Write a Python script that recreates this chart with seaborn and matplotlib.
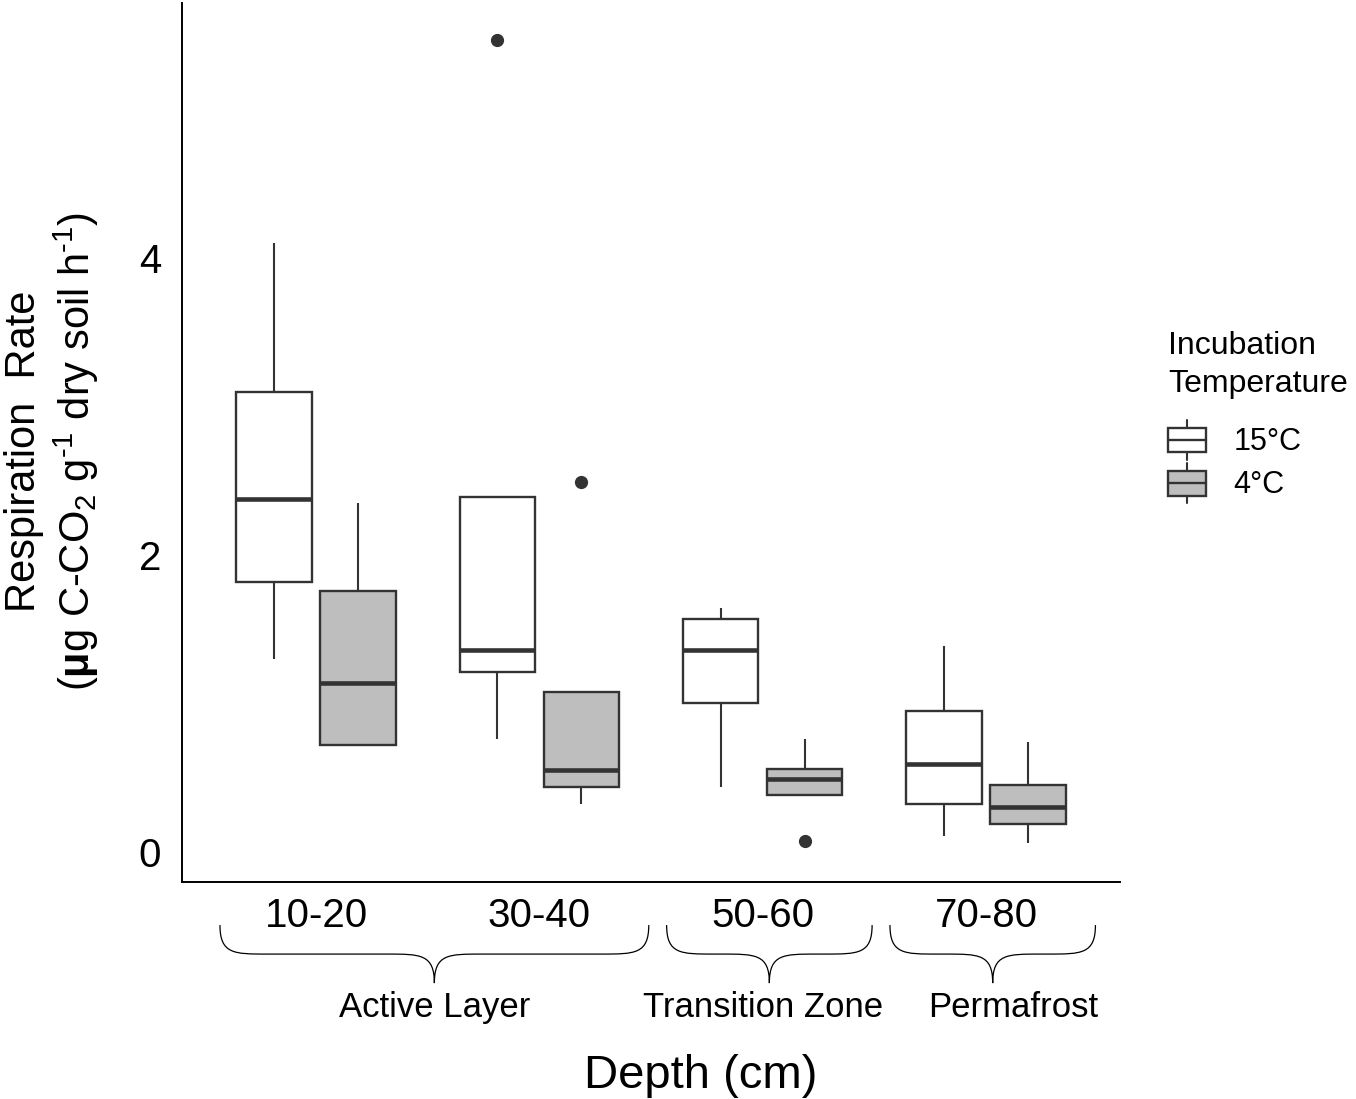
import pandas as pd
import matplotlib
matplotlib.use("Agg")
import matplotlib.pyplot as plt
import matplotlib.transforms as mtransforms
from matplotlib.path import Path
from matplotlib.patches import PathPatch, Patch, Rectangle
from matplotlib.lines import Line2D
from matplotlib.legend_handler import HandlerBase
import seaborn as sns

depths = ["10-20", "30-40", "50-60", "70-80"]
temps = ["15°C", "4°C"]
resp_15 = [
    [1.30, 1.82, 2.38, 3.10, 4.10],
    [0.76, 1.21, 1.36, 2.39, 5.47],
    [0.44, 1.00, 1.36, 1.57, 1.64],
    [0.11, 0.32, 0.59, 0.95, 1.39],
]
resp_4 = [
    [0.72, 0.72, 1.14, 1.76, 2.35],
    [0.32, 0.44, 0.55, 1.08, 2.49],
    [0.07, 0.38, 0.49, 0.56, 0.76],
    [0.06, 0.19, 0.30, 0.45, 0.74],
]
zones = ["Active Layer", "Transition Zone", "Permafrost"]
zone_first = [0, 2, 3]
zone_last = [1, 2, 3]
zone_label_shift = [0.0, -0.03, 0.09]

rows = []
for temp, series in zip(temps, [resp_15, resp_4]):
    for depth, vals in zip(depths, series):
        for v in vals:
            rows.append({"depth": depth, "temp": temp, "rate": v})
df = pd.DataFrame(rows)

sns.set_style("white")
plt.rcParams["font.family"] = ["Liberation Sans", "DejaVu Sans"]
plt.rcParams["mathtext.fontset"] = "custom"
plt.rcParams["mathtext.rm"] = "Liberation Sans"
plt.rcParams["mathtext.it"] = "Liberation Sans:italic"
plt.rcParams["mathtext.bf"] = "Liberation Sans:bold"
plt.rcParams["text.color"] = "black"
plt.rcParams["axes.labelcolor"] = "black"

edge = "#333333"
colors = {"15°C": "white", "4°C": "#bebebe"}

fig = plt.figure(figsize=(13.56, 10.99), dpi=100)
ax = fig.add_axes([182 / 1356, 1 - 882 / 1099, (1120 - 182) / 1356, 879 / 1099])

sns.boxplot(data=df, x="depth", y="rate", hue="temp", order=depths, hue_order=temps,
            palette=colors, saturation=1, width=0.75, gap=0.1, linecolor=edge,
            linewidth=1.7, showcaps=False, fliersize=8.5, legend=False,
            medianprops=dict(linewidth=3.3, color=edge),
            whiskerprops=dict(linewidth=1.5, color=edge),
            flierprops=dict(marker="o", markerfacecolor=edge, markeredgecolor=edge),
            ax=ax)

ax.set_xlim(-0.6, 3.6)
ax.set_ylim(-0.203, 5.72)
ax.set_yticks([0, 2, 4])
ax.set_yticklabels(["0", "2", "4"])
ax.set_xlabel("")
ax.set_ylabel("Respiration  Rate\n($\\mathbf{\\mu}$g C-CO$_2$ g$^{\\text{-}1}$ dry soil h$^{\\text{-}1}$)",
              fontsize=30)
ax.yaxis.set_label_coords(-0.086, 0.49)
ax.tick_params(axis="both", length=5, width=1.1, color=edge, labelcolor="black",
               labelsize=29)
ax.tick_params(axis="y", pad=10)
ax.tick_params(axis="x", pad=6)
sns.despine(ax=ax)
for s in ["left", "bottom"]:
    ax.spines[s].set_linewidth(1.4)
    ax.spines[s].set_color("black")

# curly braces grouping the depths into zones
trans = mtransforms.blended_transform_factory(ax.transData, ax.transAxes)
y_top, y_mid, y_tip = -0.049, -0.082, -0.115
dx = 0.21


def brace(x0, x1):
    xm = (x0 + x1) / 2
    verts = [
        (x0, y_top), (x0, y_mid), (x0 + dx * 0.3, y_mid), (x0 + dx, y_mid),
        (xm - dx, y_mid),
        (xm - dx * 0.3, y_mid), (xm, y_mid), (xm, y_tip),
        (xm, y_mid), (xm + dx * 0.3, y_mid), (xm + dx, y_mid),
        (x1 - dx, y_mid),
        (x1 - dx * 0.3, y_mid), (x1, y_mid), (x1, y_top),
    ]
    codes = [Path.MOVETO, Path.CURVE4, Path.CURVE4, Path.CURVE4,
             Path.LINETO,
             Path.CURVE4, Path.CURVE4, Path.CURVE4,
             Path.CURVE4, Path.CURVE4, Path.CURVE4,
             Path.LINETO,
             Path.CURVE4, Path.CURVE4, Path.CURVE4]
    ax.add_patch(PathPatch(Path(verts, codes), facecolor="none", edgecolor="black",
                           lw=0.9, transform=trans, clip_on=False))
    return xm


for name, i0, i1, sh in zip(zones, zone_first, zone_last, zone_label_shift):
    xm = brace(i0 - 0.43, i1 + 0.49)
    ax.text(xm + sh, -0.143, name, transform=trans, ha="center", va="center",
            fontsize=25, clip_on=False)

fig.text(701 / 1356, 1 - 1088 / 1099, "Depth (cm)", ha="center", va="baseline",
         fontsize=34)


class BoxHandler(HandlerBase):
    def create_artists(self, legend, orig_handle, xdescent, ydescent, width, height,
                       fontsize, trans):
        x0, y0 = -xdescent, -ydescent
        xm = x0 + width / 2
        rect = Rectangle((x0, y0 + 0.19 * height), width, 0.62 * height,
                         facecolor=orig_handle.get_facecolor(), edgecolor=edge,
                         lw=1.7, transform=trans)
        lo = Line2D([xm, xm], [y0, y0 + 0.19 * height], color=edge, lw=1.5, transform=trans)
        hi = Line2D([xm, xm], [y0 + 0.81 * height, y0 + height], color=edge, lw=1.5,
                    transform=trans)
        med = Line2D([x0, x0 + width], [y0 + 0.5 * height] * 2, color=edge, lw=1.7,
                     transform=trans)
        return [rect, lo, hi, med]


fig.text(1168 / 1356, 1 - 331 / 1099, "Incubation\nTemperature", ha="left", va="top",
         fontsize=23, linespacing=1.33)
handles = [Patch(facecolor=colors[t]) for t in temps]
leg = fig.legend(handles, temps, handler_map={Patch: BoxHandler()}, loc="upper left",
                 bbox_to_anchor=(1168 / 1356, 1 - 420 / 1099), frameon=False,
                 fontsize=22, handlelength=1.24, handleheight=1.64,
                 labelspacing=0.1, handletextpad=0.9, borderpad=0, borderaxespad=0)

fig.savefig("out.png", dpi=100)
